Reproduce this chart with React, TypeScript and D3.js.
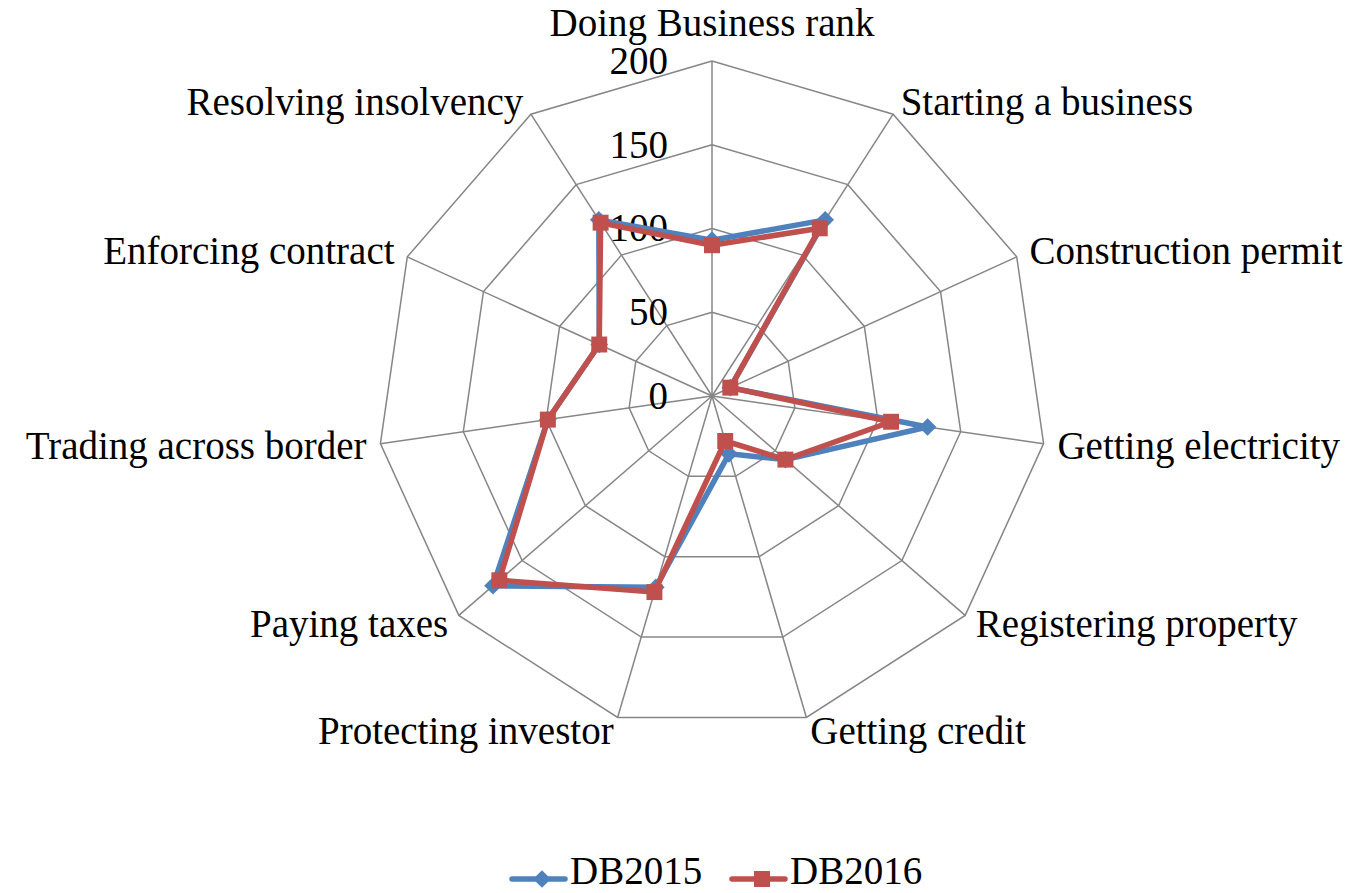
import React, { useEffect, useRef } from "react";
import * as d3 from "d3";

const categories = [
  "Doing Business rank",
  "Starting a business",
  "Construction permit",
  "Getting electricity",
  "Registering property",
  "Getting credit",
  "Protecting investor",
  "Paying taxes",
  "Trading across border",
  "Enforcing contract",
  "Resolving insolvency",
];
const db2015 = [93, 125, 12, 130, 58, 36, 119, 173, 99, 74, 125];
const db2016 = [90, 119, 12, 108, 58, 28, 122, 168, 99, 74, 123];
const ticks = [0, 50, 100, 150, 200];
const seriesNames = ["DB2015", "DB2016"];

const width = 1358;
const height = 893;
const cx = 712;
const cy = 396;
const radius = 335;
const font = "'Liberation Serif', 'Times New Roman', serif";
const fontSize = "39px";
const blue = "#4F81BD";
const red = "#C0504D";
const gridColor = "#868686";

const App = () => {
  const svgRef = useRef<SVGSVGElement>(null);

  useEffect(() => {
    const svg = d3.select(svgRef.current);
    svg.selectAll("*").remove();

    const r = d3.scaleLinear().domain([0, 200]).range([0, radius]);
    const angle = d3
      .scaleLinear()
      .domain([0, categories.length])
      .range([0, 2 * Math.PI]);

    const pt = (i: number, v: number): [number, number] => [
      cx + r(v) * Math.sin(angle(i)),
      cy - r(v) * Math.cos(angle(i)),
    ];

    const g = svg.append("g");

    // rings
    ticks
      .filter((t) => t > 0)
      .forEach((t) => {
        const pts = categories.map((_, i) => pt(i, t));
        g.append("path")
          .attr("d", d3.line()(pts.concat([pts[0]])) as string)
          .attr("fill", "none")
          .attr("stroke", gridColor)
          .attr("stroke-width", 1.5);
      });

    // spokes
    categories.forEach((_, i) => {
      const [x, y] = pt(i, 200);
      g.append("line")
        .attr("x1", cx)
        .attr("y1", cy)
        .attr("x2", x)
        .attr("y2", y)
        .attr("stroke", gridColor)
        .attr("stroke-width", 1.5);
    });

    // tick labels
    ticks.forEach((t) => {
      g.append("text")
        .attr("x", cx - 44)
        .attr("y", cy - r(t))
        .attr("dy", "0.33em")
        .attr("text-anchor", "end")
        .style("font-family", font)
        .style("font-size", fontSize)
        .attr("fill", "#000")
        .text(t);
    });

    // category labels
    categories.forEach((c, i) => {
      const a = angle(i);
      const s = Math.sin(a);
      const co = Math.cos(a);
      const [x, y] = pt(i, 200 + 14 / (radius / 200));
      const anchor = s > 0.1 ? "start" : s < -0.1 ? "end" : "middle";
      g.append("text")
        .attr("x", x)
        .attr("y", co > 0.95 ? y - 11.5 : y)
        .attr("dy", co > 0.95 ? "0" : "0.33em")
        .attr("text-anchor", anchor)
        .style("font-family", font)
        .style("font-size", fontSize)
        .attr("fill", "#000")
        .text(c);
    });

    const line = d3.line();
    const drawSeries = (vals: number[], color: string, marker: "diamond" | "square") => {
      const pts = vals.map((v, i) => pt(i, v));
      g.append("path")
        .attr("d", line(pts.concat([pts[0]])) as string)
        .attr("fill", "none")
        .attr("stroke", color)
        .attr("stroke-width", 5.5)
        .attr("stroke-linejoin", "round");
      const sym = d3
        .symbol()
        .type(marker === "diamond" ? d3.symbolDiamond2 : d3.symbolSquare2)
        .size(marker === "diamond" ? 200 : 324);
      g.selectAll(null)
        .data(pts)
        .join("path")
        .attr("transform", (d) => `translate(${d[0]},${d[1]})`)
        .attr("d", sym() as string)
        .attr("fill", color);
    };
    drawSeries(db2015, blue, "diamond");
    drawSeries(db2016, red, "square");

    // legend
    const legendY = 879;
    const legend = [
      { name: seriesNames[0], color: blue, x: 512, marker: "diamond" },
      { name: seriesNames[1], color: red, x: 732, marker: "square" },
    ];
    legend.forEach((l) => {
      g.append("line")
        .attr("x1", l.x)
        .attr("x2", l.x + 53)
        .attr("y1", legendY)
        .attr("y2", legendY)
        .attr("stroke", l.color)
        .attr("stroke-width", 5.5)
        .attr("stroke-linecap", "round");
      const sym = d3
        .symbol()
        .type(l.marker === "diamond" ? d3.symbolDiamond2 : d3.symbolSquare2)
        .size(l.marker === "diamond" ? 200 : 324);
      g.append("path")
        .attr("transform", `translate(${l.x + 30},${legendY})`)
        .attr("d", sym() as string)
        .attr("fill", l.color);
      g.append("text")
        .attr("x", l.x + 58)
        .attr("y", 884)
        .style("font-family", font)
        .style("font-size", fontSize)
        .attr("fill", "#000")
        .text(l.name);
    });
  }, []);

  return (
    <svg
      ref={svgRef}
      width={width}
      height={height}
      style={{ position: "absolute", left: 0, top: 0, background: "#fff" }}
    />
  );
};

export default App;
